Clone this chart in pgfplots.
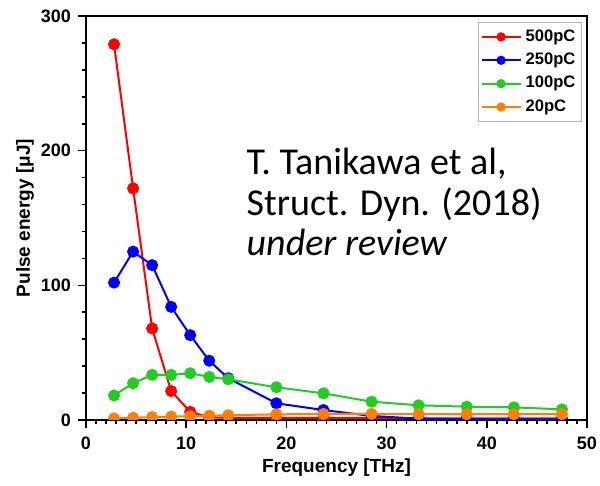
\documentclass[border=0pt]{standalone}
\usepackage{pgfplots}
\pgfplotsset{compat=1.18}
\usepackage{fontspec}
\setmainfont{Liberation Sans}
\newfontfamily\notefont{Carlito}

\definecolor{cRed}{RGB}{255,0,0}
\definecolor{cBlue}{RGB}{0,0,255}
\definecolor{cGreen}{RGB}{34,204,34}
\definecolor{cOrange}{RGB}{255,128,0}

\pgfplotsset{
  series/.style={color=#1, line width=1pt, mark=*, mark size=2.5pt,
    mark options={fill=#1, draw=#1, solid}},
}

\begin{document}
\begin{tikzpicture}
\begin{axis}[
  scale only axis,
  width=250.5pt, height=202pt,
  xmin=0, xmax=50, ymin=0, ymax=300,
  xtick={0,10,...,50}, ytick={0,100,200,300},
  minor x tick num=9, minor y tick num=4,
  xtick pos=bottom, ytick pos=left, tick align=outside,
  major tick length=4pt, minor tick length=2.2pt,
  axis line style={line width=1pt},
  every tick/.style={black, line width=0.8pt},
  clip marker paths=true,
  /pgf/number format/assume math mode=true,
  tick label style={font=\fontsize{9}{10}\selectfont\bfseries},
  xticklabel style={yshift=-1pt},
  xlabel={Frequency [THz]},
  ylabel={Pulse energy [μJ]},
  every axis x label/.style={at={(axis description cs:0.5,0)}, yshift=-24pt,
    anchor=center, font=\fontsize{9.5}{11}\selectfont\bfseries},
  every axis y label/.style={at={(axis description cs:0,0.5)}, xshift=-30.5pt,
    rotate=90, anchor=center, font=\fontsize{9.5}{11}\selectfont\bfseries},
  legend style={at={(rel axis cs:1,1)}, anchor=north east, xshift=-2.5pt, yshift=-3pt,
    draw=gray!60, line width=0.6pt, fill=white,
    font=\fontsize{8.3}{9.5}\selectfont\bfseries,
    inner xsep=1pt, inner ysep=1.5pt, row sep=0.4pt,
    /tikz/every even column/.append style={column sep=0pt}},
  legend cell align=left,
  legend image code/.code={%
    \draw[mark repeat=2, mark phase=2, #1, mark size=1.8pt]
      plot coordinates {(0pt,0pt) (9.75pt,0pt) (19.5pt,0pt)};},
]
\coordinate (sw) at (rel axis cs:0,0);

% 500 pC
\addplot[series=cRed] coordinates {
  (2.8,279) (4.7,172) (6.6,68) (8.5,21.5) (10.4,6) (12.3,2) (14.2,1.6)
  (19.0,1.5) (23.7,1.5) (28.5,1.4) (33.2,1.2) (38.0,1.2) (42.7,1.2) (47.5,1.2)};
\addlegendentry{500pC}

% 250 pC
\addplot[series=cBlue] coordinates {
  (2.8,102) (4.7,125) (6.6,115) (8.5,84) (10.4,63) (12.3,44) (14.2,31)
  (19.0,12.4) (23.7,7.4) (28.5,3) (33.2,1) (38.0,0.6) (42.7,0.5) (47.5,0.5)};
\addlegendentry{250pC}

% 100 pC
\addplot[series=cGreen] coordinates {
  (2.8,18.2) (4.7,27.3) (6.6,33.5) (8.5,33.5) (10.4,34.7) (12.3,32) (14.2,30.2)
  (19.0,24.3) (23.7,19.8) (28.5,13.6) (33.2,10.9) (38.0,9.9) (42.7,9.4) (47.5,7.9)};
\addlegendentry{100pC}

% 20 pC
\addplot[series=cOrange] coordinates {
  (2.8,1.2) (4.7,1.6) (6.6,2.2) (8.5,2.5) (10.4,2.8) (12.3,3.2) (14.2,3.5)
  (19.0,4.2) (23.7,4.5) (28.5,4.5) (33.2,4.3) (38.0,4.3) (42.7,4.3) (47.5,4.3)};
\addlegendentry{20pC}

\node[anchor=base west, font=\notefont\fontsize{19}{20}\selectfont, inner sep=0pt]
  at (axis cs:16,182) {T. Tanikawa et al,};
\node[anchor=base west, font=\notefont\fontsize{19}{20}\selectfont, inner sep=0pt]
  at (axis cs:16,152.2) {Struct. Dyn. (2018)};
\node[anchor=base west, font=\notefont\itshape\fontsize{19}{20}\selectfont, inner sep=0pt]
  at (axis cs:16,122.5) {under review};
\end{axis}
\pgfresetboundingbox
\path (sw) ++(-43pt,-33pt) rectangle ++(300pt,243pt);
\end{tikzpicture}
\end{document}
